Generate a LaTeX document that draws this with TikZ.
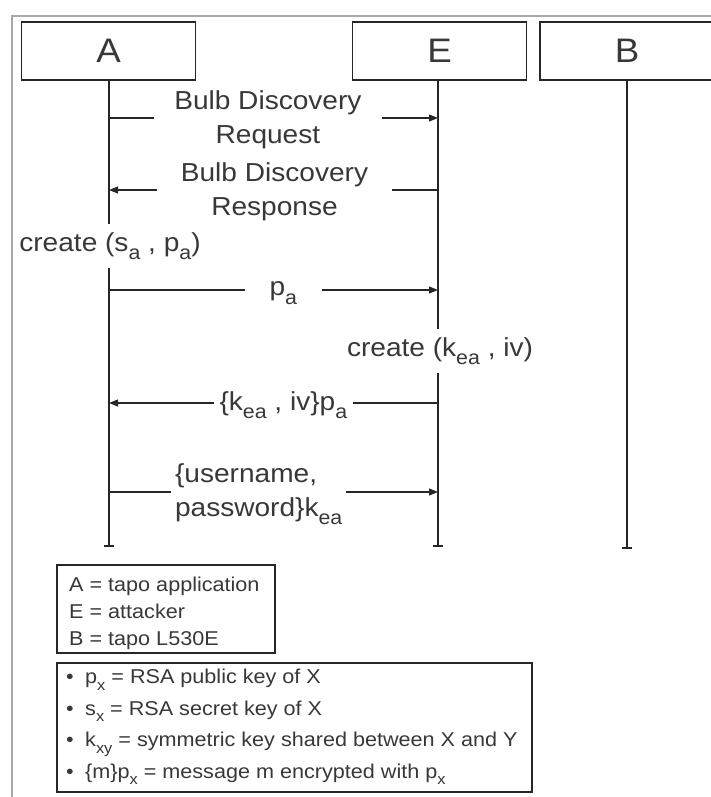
\documentclass[tikz,border=0pt]{standalone}
\usepackage{fontspec}
\usepackage{graphicx}
\setmainfont{Liberation Sans}[FakeStretch=1.08]
\usetikzlibrary{arrows.meta}
\definecolor{ink}{HTML}{262626}
\definecolor{txt}{HTML}{383838}
\definecolor{framegray}{HTML}{A8A8A8}
\newcommand\msgfont{\fontsize{26}{34}\selectfont}
\newcommand\keyfont{\fontsize{20}{27}\selectfont}
\newcommand\sbs[1]{\raisebox{-0.32em}{\scalebox{0.76}{#1}}}
\tikzset{
  actor/.style={draw=ink, line width=1.1pt, minimum width=174pt, minimum height=58pt,
    inner sep=0pt, text=txt, font=\fontsize{34}{36}\selectfont},
  life/.style={draw=ink, line width=1.2pt, -{Bar[width=10pt, line width=1.6pt]}},
  msg/.style={draw=ink, line width=1.1pt, -{Triangle[length=9pt, width=7pt]}},
  lab/.style={fill=white, text=txt, font=\msgfont, align=center, inner ysep=0pt},
  note/.style={fill=white, text=txt, font=\msgfont, inner xsep=2pt},
  keybox/.style={draw=ink, line width=1.1pt, inner sep=0pt},
  keytext/.style={text=txt, font=\keyfont, align=left, inner sep=0pt},
}
\begin{document}
\begin{tikzpicture}[x=1pt, y=-1pt]
  \useasboundingbox (0,0) rectangle (710,797);
  % outer frame
  \draw[framegray, line width=2pt] (12,16) rectangle (730,820);

  % participants
  \node[actor] (A) at (108.5,51) {A};
  \node[actor] (E) at (439.5,51) {E};
  \node[actor] (B) at (627,51) {B};

  % lifelines
  \coordinate (Aend) at (109,547);
  \coordinate (Eend) at (438,547);
  \coordinate (Bend) at (627,549);
  \draw[life] (A.south -| Aend) -- (Aend);
  \draw[life] (E.south -| Eend) -- (Eend);
  \draw[life] (B.south -| Bend) -- (Bend);

  % message end points on the lifelines
  \coordinate (a1) at (109,118); \coordinate (e1) at (438,118);
  \coordinate (a2) at (109,190); \coordinate (e2) at (438,190);
  \coordinate (a3) at (109,290); \coordinate (e3) at (438,290);
  \coordinate (a4) at (109,403); \coordinate (e4) at (438,403);
  \coordinate (a5) at (109,492); \coordinate (e5) at (438,492);

  \draw[msg] (a1) -- node[lab, pos=0.483, inner xsep=20pt, yshift=-2pt] (m1) {Bulb Discovery\\Request} (e1);
  \draw[msg] (e2) -- node[lab, pos=0.497, inner xsep=24pt, yshift=-2pt] (m2) {Bulb Discovery\\Response} (a2);

  \node[note, inner ysep=8pt] (ca) at (110,246) {create (s\sbs{a} , p\sbs{a})};

  \draw[msg] (a3) -- node[lab, pos=0.53, inner xsep=25pt, yshift=-3pt] (m3) {p\sbs{a}} (e3);

  \node[note, inner ysep=8pt] (ce) at (440,351) {create (k\sbs{ea} , iv)};

  \draw[msg] (e4) -- node[lab, pos=0.47, inner xsep=6pt, yshift=-2pt] (m4) {\{k\sbs{ea} , iv\}p\sbs{a}} (a4);

  \draw[msg] (a5) -- node[lab, pos=0.455, align=left, inner xsep=4pt, yshift=-2pt] (m5) {\{username,\\password\}k\sbs{ea}} (e5);

  % key to the participants
  \node[keybox, minimum width=218pt, minimum height=88pt] (key1) at (166,609) {};
  \node[keytext, anchor=west] (key1t) at (69,613)
    {A = tapo application\\E = attacker\\B = tapo L530E};

  % key to the notation
  \node[keybox, minimum width=475pt, minimum height=129pt] (key2) at (294.5,727.5) {};
  \node[keytext, anchor=west, font=\fontsize{20}{31.5}\selectfont] (key2t) at (66,727)
    {\makebox[19pt][l]{\textbullet}p\sbs{x} = RSA public key of X\\
     \makebox[19pt][l]{\textbullet}s\sbs{x} = RSA secret key of X\\
     \makebox[19pt][l]{\textbullet}k\sbs{xy} = symmetric key shared between X and Y\\
     \makebox[19pt][l]{\textbullet}\{m\}p\sbs{x} = message m encrypted with p\sbs{x}};
\end{tikzpicture}
\end{document}
